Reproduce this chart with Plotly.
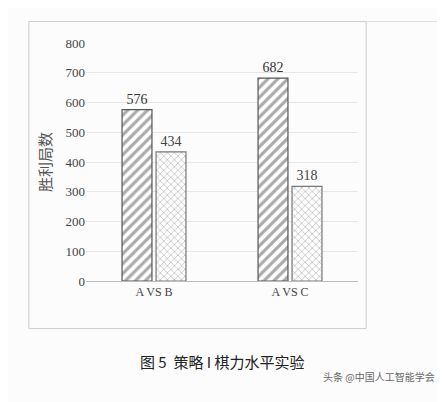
import plotly.graph_objects as go

categories = ["A VS B", "A VS C"]
first_values = [576, 682]
second_values = [434, 318]
y_ticks = [0, 100, 200, 300, 400, 500, 600, 700, 800]

serif = "Liberation Serif, DejaVu Serif, serif"
cjk = "Noto Sans CJK SC"

fig = go.Figure()
fig.add_trace(go.Bar(
    x=categories, y=first_values, text=first_values, textposition="outside",
    marker=dict(color="white", line=dict(color="#555", width=1.2),
                pattern=dict(shape="/", fgcolor="#555", size=7, solidity=0.45)),
    textfont=dict(family=serif, size=14, color="#333"), cliponaxis=False))
fig.add_trace(go.Bar(
    x=categories, y=second_values, text=second_values, textposition="outside",
    marker=dict(color="white", line=dict(color="#777", width=1.2),
                pattern=dict(shape="x", fgcolor="#888", size=5, solidity=0.3)),
    textfont=dict(family=serif, size=14, color="#444"), cliponaxis=False))

fig.update_layout(
    width=445, height=402, margin=dict(l=78, r=95, t=35, b=129),
    paper_bgcolor="#fcfcfc", plot_bgcolor="#fcfcfc", showlegend=False,
    barmode="group", bargap=0.5, bargroupgap=0.12,
    font=dict(family=serif, color="#444", size=13),
)
fig.update_yaxes(range=[0, 800], tickvals=y_ticks, showgrid=True, gridcolor="#e6e6e6",
                 zeroline=False, showline=False, ticks="",
                 title=dict(text="胜利局数", font=dict(family=cjk, size=15, color="#555"), standoff=10))
fig.update_xaxes(showline=True, linecolor="#bbb", ticks="",
                 tickfont=dict(family=serif, size=12, color="#444"))

# outer frame of the chart
fig.add_shape(type="rect", xref="paper", yref="paper", x0=-0.21, x1=1.03, y0=-0.2, y1=1.09,
              line=dict(color="#ccc", width=1))
fig.add_shape(type="line", xref="paper", yref="paper", x0=1.03, x1=1.3, y0=1.09, y1=1.09,
              line=dict(color="#ddd", width=1))
fig.add_shape(type="line", xref="paper", yref="paper", x0=1.3, x1=1.3, y0=-0.2, y1=1.09,
              line=dict(color="#ddd", width=1))

fig.add_annotation(text="图 5  策略 I 棋力水平实验", xref="paper", yref="paper",
                   x=0.5, y=-0.39, showarrow=False,
                   font=dict(family=cjk, size=15, color="#222"))
fig.add_annotation(text="头条 @中国人工智能学会", xref="paper", yref="paper",
                   x=1.29, y=-0.44, xanchor="right", showarrow=False,
                   font=dict(family=cjk, size=10, color="#666"))

fig.write_html("out.html")
